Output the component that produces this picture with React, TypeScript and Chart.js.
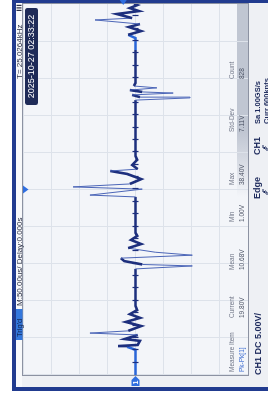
import React, { useEffect, useRef } from 'react';
import { Chart, registerables } from 'chart.js';

Chart.register(...registerables);

// ---- data (time in µs at 50 µs/div, volts at 5 V/div) ----
const timeRange = [-250, 250];
const voltRange = [-20, 20];
const timeStep = 50;
const voltStep = 5;
const triggerLevel = 2.2;

const waveTimes = [
  -250, -216, -212, -211, -209.5, -204, -201.5, -196, -193.5, -190.5, -184, -178.5, -173, -168, -162.5, -157,
  -107, -103, -101, -96.5, -92.5, -88.5, -84.5, -79, -73.5, -68, -62.5, -58.5,
  -14, -10, -7.5, 0.5, 3.5, 7.5, 14, 21, 25, 27.5, 33, 40, 45,
  116.5, 120.5, 123.5, 124.5, 127.5, 130, 131.5, 134, 137, 139.5, 143.5,
  188, 204, 208.5, 213.5, 219, 223, 228.5, 231, 236.5, 240.5, 244.5, 248.5, 250,
];
const waveVolts = [
  0, 0, 1.5, 3.1, -0.4, -0.8, 1.9, -0.4, 8.1, 1.3, -1.0, 1.7, -0.8, 1.0, -0.3, 0,
  0, -10.1, -1.2, 2.0, 2.6, -10.1, -3.5, 1.3, -1.0, 0.8, -0.3, 0,
  0, 0, 8.1, -1.2, 11.1, 1.0, -1.0, 1.5, 4.5, -0.4, 0.6, -0.3, 0,
  0, 0, -9.7, -0.8, 0.6, -6.7, -1.2, 1.0, -3.8, 0.3, 0,
  0, 0, 1.3, -1.0, 1.2, -0.8, 7.2, 0.6, 3.3, -0.6, 1.0, -0.3, 0.3,
];

const measureHeaders = ['Measure Item', 'Current', 'Mean', 'Min', 'Max', 'Std-Dev', 'Count'];
const measureValues = ['Pk-Pk[1]', '19.80V', '10.68V', '1.00V', '38.40V', '7.11V', '828'];
const trigState = "Trig'd";
const timebaseText = 'M:50.00us/ Delay:0.000s';
const freqText = 'T= 25.0264kHz';
const dateText = '2025-10-27 02:33:22';
const channelText = 'CH1 DC 5.00V/';
const trigTypeText = 'Edge';
const trigSourceText = 'CH1';
const sampleText = 'Sa 1.00GS/s';
const memText = 'Curr 600kpts';

// ---- styles ----
const W = 397;
const H = 268;
const FONT = "'Liberation Sans', Arial, sans-serif";
const FRAME = '#213b8f';
const PANEL = '#eef0f4';
const PLOT_BG = '#f3f5f9';
const GRID = '#dde2ea';
const BORDER = '#8c92a2';
const TRACE = '#1d2f7d';
const BRIGHT = '#2a66d8';
const SPIKE = '#4c66b8';
const MARK = '#2f6ee0';
const NAVY = '#1d2a5c';
const colX = [25, 79, 127, 175, 212, 265, 318];

function edgeIcon(ctx: CanvasRenderingContext2D, x: number, y: number) {
  ctx.beginPath();
  ctx.moveTo(x - 3, y + 2);
  ctx.lineTo(x, y + 2);
  ctx.lineTo(x, y - 2);
  ctx.lineTo(x + 3, y - 2);
  ctx.moveTo(x - 1.5, y + 0.5);
  ctx.lineTo(x, y - 1);
  ctx.lineTo(x + 1.5, y + 0.5);
  ctx.strokeStyle = NAVY;
  ctx.lineWidth = 1;
  ctx.stroke();
}

const scopePlugin = {
  id: 'scope',
  beforeDraw(chart: any) {
    const { ctx, chartArea: a } = chart;
    ctx.save();
    ctx.fillStyle = '#ffffff';
    ctx.fillRect(0, 0, W, H);
    ctx.fillStyle = FRAME;
    ctx.fillRect(6, 12, W - 6, H - 12);
    ctx.fillStyle = PANEL;
    ctx.fillRect(10, 16, 384, H - 16);
    ctx.fillStyle = '#f8f9fb';
    ctx.fillRect(10, 16, 384, 6);
    ctx.fillStyle = PLOT_BG;
    ctx.fillRect(a.left, a.top, a.right - a.left, a.bottom - a.top);
    // highlighted value row band
    const g = ctx.createLinearGradient(200, 0, 265, 0);
    g.addColorStop(0, 'rgba(192,198,210,0)');
    g.addColorStop(1, 'rgba(192,198,210,1)');
    ctx.fillStyle = g;
    ctx.fillRect(200, 237, a.right - 200, a.bottom - 237);
    ctx.restore();
  },
  afterDatasetsDraw(chart: any) {
    const { ctx, chartArea: a, scales } = chart;
    const y0 = scales.y.getPixelForValue(0);
    const step = (a.right - a.left) / ((timeRange[1] - timeRange[0]) / timeStep) / 3;
    ctx.save();
    ctx.strokeStyle = TRACE;
    ctx.lineWidth = 1.2;
    ctx.beginPath();
    for (let x = a.left + step; x < a.right - 1; x += step) {
      ctx.moveTo(Math.round(x) + 0.5, y0 - 3);
      ctx.lineTo(Math.round(x) + 0.5, y0 + 3);
    }
    ctx.stroke();
    ctx.restore();
  },
  afterDraw(chart: any) {
    const { ctx, chartArea: a, scales } = chart;
    ctx.save();
    // plot frame
    ctx.strokeStyle = BORDER;
    ctx.lineWidth = 1;
    ctx.strokeRect(a.left - 0.5, a.top - 0.5, a.right - a.left + 1, a.bottom - a.top + 1);

    // top strip
    ctx.fillStyle = '#3377dd';
    ctx.fillRect(57, 16, 31, 6.5);
    ctx.textBaseline = 'middle';
    ctx.fillStyle = '#10204a';
    ctx.font = `7.5px ${FONT}`;
    ctx.fillText(trigState, 60, 19.5);
    ctx.fillStyle = '#2a2f45';
    ctx.font = `8px ${FONT}`;
    ctx.fillText(timebaseText, 91, 19.5);
    ctx.fillText(freqText, 318, 19.5);
    ctx.fillStyle = '#2a2f45';
    for (let i = 0; i < 3; i++) ctx.fillRect(386 + i * 2.5, 16.5, 1.2, 5);

    // date badge
    ctx.fillStyle = '#1f2b58';
    ctx.beginPath();
    (ctx as any).roundRect(292, 25, 97, 13, 2.5);
    ctx.fill();
    ctx.fillStyle = '#ffffff';
    ctx.font = `9px ${FONT}`;
    ctx.textAlign = 'center';
    ctx.fillText(dateText, 340.5, 31.8);
    ctx.textAlign = 'left';

    // markers
    const xt = scales.x.getPixelForValue(0);
    ctx.fillStyle = MARK;
    ctx.beginPath();
    ctx.moveTo(xt - 4, a.top);
    ctx.lineTo(xt + 4, a.top);
    ctx.lineTo(xt, a.top + 5.5);
    ctx.closePath();
    ctx.fill();
    const yt = scales.y.getPixelForValue(triggerLevel);
    ctx.beginPath();
    ctx.moveTo(W, yt - 3.5);
    ctx.lineTo(W, yt + 3.5);
    ctx.lineTo(W - 5, yt);
    ctx.closePath();
    ctx.fill();
    const yc = scales.y.getPixelForValue(0);
    ctx.beginPath();
    ctx.moveTo(11, yc - 4);
    ctx.lineTo(17, yc - 4);
    ctx.lineTo(21, yc);
    ctx.lineTo(17, yc + 4);
    ctx.lineTo(11, yc + 4);
    ctx.closePath();
    ctx.fill();
    ctx.fillStyle = '#ffffff';
    ctx.font = `bold 7px ${FONT}`;
    ctx.fillText('1', 12.5, yc + 0.5);

    // measurement table
    ctx.font = `6.5px ${FONT}`;
    measureHeaders.forEach((t, i) => {
      ctx.fillStyle = '#717788';
      ctx.fillText(t, colX[i], 232);
    });
    measureValues.forEach((t, i) => {
      ctx.fillStyle = i === 0 ? '#3a6ad0' : '#4d5466';
      ctx.fillText(t, colX[i], 242);
    });

    // bottom info row
    ctx.fillStyle = NAVY;
    ctx.font = `bold 9px ${FONT}`;
    ctx.fillText(channelText, 22, 258.5);
    ctx.fillText(trigTypeText, 198, 258);
    ctx.fillText(trigSourceText, 242, 258);
    edgeIcon(ctx, 205, 265);
    edgeIcon(ctx, 249, 265);
    ctx.fillStyle = NAVY;
    ctx.font = `bold 7.5px ${FONT}`;
    ctx.fillText(sampleText, 273, 258);
    ctx.fillText(memText, 273, 266.5);
    ctx.restore();
  },
};

export default function App() {
  const ref = useRef<HTMLCanvasElement | null>(null);

  useEffect(() => {
    if (!ref.current) return;
    const pts = waveTimes.map((t, i) => ({ x: t, y: waveVolts[i] }));
    const dv = (c: any) => Math.abs(c.p1.parsed.y - c.p0.parsed.y);
    const chart = new Chart(ref.current, {
      type: 'scatter',
      data: {
        datasets: [
          {
            data: pts,
            showLine: true,
            pointRadius: 0,
            borderColor: TRACE,
            borderWidth: 2.6,
            borderJoinStyle: 'miter',
            segment: {
              borderColor: (c: any) => {
                if (dv(c) > 4) return SPIKE;
                const x = c.p0.parsed.x;
                if (x < -215 || (x >= 188 && x < 205)) return BRIGHT;
                return TRACE;
              },
              borderWidth: (c: any) => (dv(c) > 4 ? 1 : 2.6),
            },
          } as any,
        ],
      },
      options: {
        responsive: false,
        animation: false,
        devicePixelRatio: 1,
        layout: { padding: { left: 22, top: 23, right: 4, bottom: 20 } },
        plugins: { legend: { display: false }, tooltip: { enabled: false } },
        scales: {
          x: {
            type: 'linear',
            min: timeRange[0],
            max: timeRange[1],
            ticks: { display: false, stepSize: timeStep },
            grid: { color: GRID, drawTicks: false },
            border: { display: false },
          },
          y: {
            type: 'linear',
            min: voltRange[0],
            max: voltRange[1],
            ticks: { display: false, stepSize: voltStep },
            grid: { color: GRID, drawTicks: false },
            border: { display: false },
          },
        },
      },
      plugins: [scopePlugin],
    });
    return () => chart.destroy();
  }, []);

  return (
    <div style={{ position: 'fixed', left: 0, top: 0, width: 268, height: 397, overflow: 'hidden', background: '#fff' }}>
      <div
        style={{
          position: 'absolute',
          left: 0,
          top: 0,
          width: W,
          height: H,
          transformOrigin: '0 0',
          transform: `translateY(${W}px) rotate(-90deg)`,
        }}
      >
        <canvas ref={ref} width={W} height={H} style={{ display: 'block', width: W, height: H }} />
      </div>
    </div>
  );
}
